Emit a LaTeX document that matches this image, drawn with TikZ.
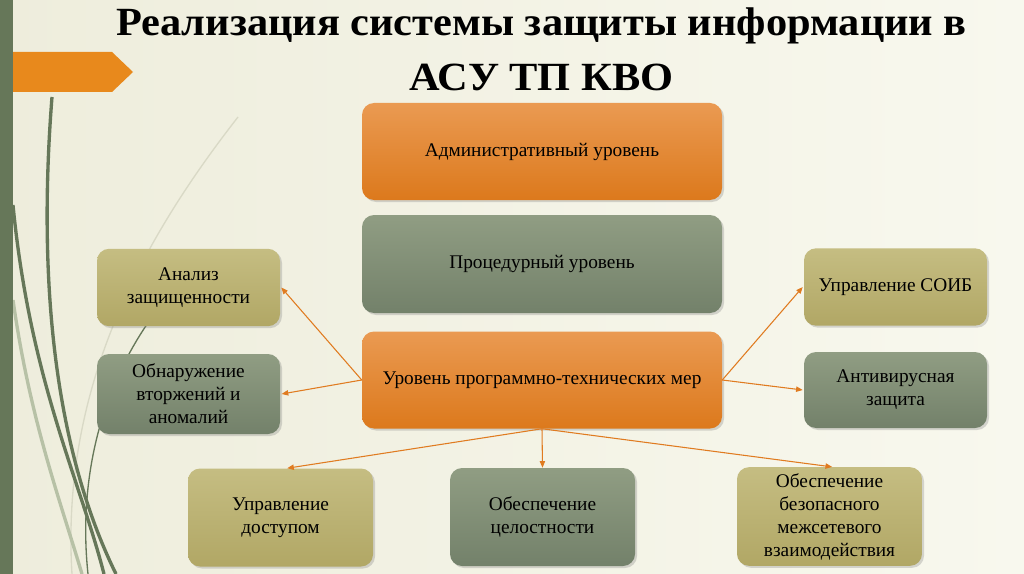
\documentclass[tikz,border=0pt]{standalone}
\usepackage{fontspec}
\setmainfont{Liberation Serif}
\usetikzlibrary{arrows.meta, positioning, shadows}
\definecolor{bgleft}{HTML}{EEEDDC}
\definecolor{bgright}{HTML}{F8F8EE}
\definecolor{band}{HTML}{667759}
\definecolor{banner}{HTML}{E8891C}
\definecolor{orangetop}{HTML}{EA9A52}
\definecolor{orangebot}{HTML}{DC791C}
\definecolor{greentop}{HTML}{909D83}
\definecolor{greenbot}{HTML}{73816A}
\definecolor{olivetop}{HTML}{C5BD82}
\definecolor{olivebot}{HTML}{B1A765}
\definecolor{linkorange}{HTML}{E07B20}
\definecolor{wisp}{HTML}{D9D9C6}
\definecolor{wispgreen}{HTML}{B7C1A6}

\begin{document}
\begin{tikzpicture}[x=0.75pt, y=-0.75pt,
  box/.style={rounded corners=9pt, align=center, inner sep=2pt,
    font=\fontsize{14.5}{17.25}\selectfont,
    drop shadow={opacity=0.3, shadow xshift=1.5pt, shadow yshift=-1.5pt}},
  levelorange/.style={box, top color=orangetop, bottom color=orangebot, minimum width=270pt, minimum height=72.75pt},
  levelgreen/.style={box, top color=greentop, bottom color=greenbot, minimum width=270pt, minimum height=73.5pt},
  sideolive/.style={box, top color=olivetop, bottom color=olivebot, minimum width=137.25pt, minimum height=58pt},
  sidegreen/.style={box, top color=greentop, bottom color=greenbot, minimum width=137.25pt, minimum height=58pt},
  link/.style={draw=linkorange, line width=0.8pt, -{Triangle[length=5pt, width=4pt]}},
  titletext/.style={font=\bfseries\fontsize{30}{36}\selectfont, xscale=1.06, inner sep=0pt}]

  \useasboundingbox (0,0) rectangle (1024,574);
  \shade[left color=bgleft, right color=bgright] (0,0) rectangle (1024,574);

  % left decoration
  \draw[wisp, line width=1pt] (238,117) .. controls (150,230) and (60,380) .. (72,574);
  \draw[wispgreen, line width=2.5pt] (13,300) .. controls (30,420) and (60,500) .. (82,574);
  \draw[band, line width=1pt] (165,300) .. controls (100,380) and (78,480) .. (88,574);
  \draw[band, line width=2.5pt] (52,97) .. controls (36,300) and (60,460) .. (116,574);
  \draw[band, line width=2.5pt] (13,205) .. controls (30,380) and (80,480) .. (104,574);
  \fill[band] (0,0) rectangle (13,574);
  \fill[banner] (13,52) -- (112,52) -- (133,72) -- (112,92) -- (13,92) -- cycle;

  % title
  \node[titletext, anchor=base] (title1) at (541.5,36) {Реализация системы защиты информации в};
  \node[titletext, anchor=base] (title2) at (541.5,91) {АСУ ТП КВО};

  % levels
  \node[levelorange] (adm) at (542,151.5) {Административный уровень};
  \node[levelgreen] (proc) at (542,264) {Процедурный уровень};
  \node[levelorange] (tech) at (542,380) {Уровень программно-технических мер};

  % side measures
  \node[sideolive] (anal) at (188.5,287.5) {Анализ\\защищенности};
  \node[sidegreen, minimum height=60pt] (obn) at (188.5,394) {Обнаружение\\вторжений и\\аномалий};
  \node[sideolive] (soib) at (895.5,287) {Управление СОИБ};
  \node[sidegreen, minimum height=57pt] (anti) at (895.5,390) {Антивирусная\\защита};

  % bottom measures
  \node[sideolive, minimum width=138.75pt, minimum height=73.5pt] (upr) at (280.5,517.5) {Управление\\доступом};
  \node[sidegreen, minimum width=138.75pt, minimum height=73.5pt] (cel) at (542.5,517) {Обеспечение\\целостности};
  \node[sideolive, minimum width=138.75pt, minimum height=74pt] (obesp) at (829.5,516.5) {Обеспечение\\безопасного\\межсетевого\\взаимодействия};

  % links
  \draw[link] (tech.west) -- ([xshift=0.75pt]anal.east);
  \draw[link] (tech.west) -- ([xshift=1pt]obn.east);
  \draw[link] (tech.east) -- ([xshift=-0.75pt]soib.west);
  \draw[link] (tech.east) -- ([xshift=-0.75pt]anti.west);
  \draw[link] (tech.south) -- ([xshift=5pt]upr.north);
  \draw[link] (tech.south) -- (cel.north);
  \draw[link] (tech.south) -- ([xshift=2pt]obesp.north);
\end{tikzpicture}
\end{document}
